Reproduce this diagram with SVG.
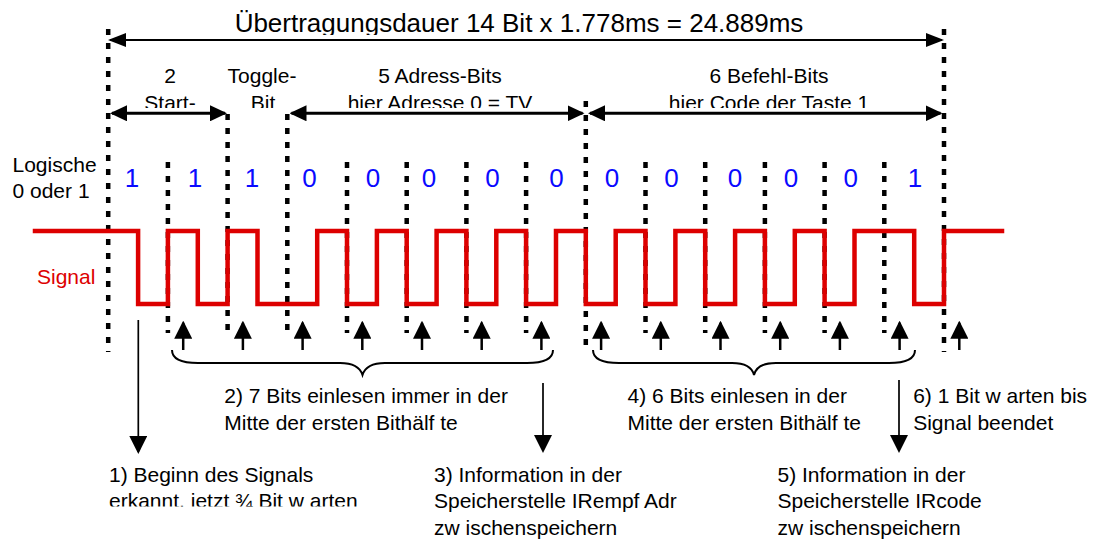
<svg xmlns="http://www.w3.org/2000/svg" width="1101" height="539" viewBox="0 0 1101 539">
<style>
text{font-family:"Liberation Sans",Arial,sans-serif;fill:#000}
.lbl{font-size:21px}
.ttl{font-size:26px}
.dig{font-size:26px;fill:#0a0aff;text-anchor:middle}
.mid{text-anchor:middle}
.dot{stroke:#000;stroke-width:4.5;stroke-dasharray:6 8;fill:none}
.sig{stroke:#dd0000;stroke-width:4.5;fill:none;stroke-linejoin:miter;stroke-linecap:square}
.a1{stroke:#000;stroke-width:2;fill:none}
.a2{stroke:#000;stroke-width:3;fill:none}
.up{stroke:#000;stroke-width:2.5;fill:none}
.dn{stroke:#000;stroke-width:1.7;fill:none}
.br{stroke:#000;stroke-width:2;fill:none}
</style>
<defs>
<marker id="mT" markerUnits="userSpaceOnUse" viewBox="0 0 18 14" markerWidth="18" markerHeight="14" refX="16" refY="7" orient="auto-start-reverse"><path d="M0,0L18,7L0,14z" fill="#000"/></marker>
<marker id="mR" markerUnits="userSpaceOnUse" viewBox="0 0 17 16" markerWidth="17" markerHeight="16" refX="15" refY="8" orient="auto-start-reverse"><path d="M0,0L17,8L0,16z" fill="#000"/></marker>
<marker id="mA" markerUnits="userSpaceOnUse" viewBox="0 0 18 18" markerWidth="18" markerHeight="18" refX="16" refY="9" orient="auto"><path d="M0,0L18,9L0,18z" fill="#000"/></marker>
<clipPath id="cTitle"><rect x="0" y="0" width="1101" height="35"/></clipPath>
<clipPath id="cRow2"><rect x="0" y="85" width="1101" height="23"/></clipPath>
<clipPath id="cB1"><rect x="0" y="440" width="420" height="66.5"/></clipPath>
</defs>

<g id="guides">
<line class="dot" x1="108.2" y1="29" x2="108.2" y2="352"/>
<line class="dot" x1="944" y1="29" x2="944" y2="352"/>
<line class="dot" x1="585.8" y1="101" x2="585.8" y2="352"/>
<line class="dot" x1="227.6" y1="114" x2="227.6" y2="330"/>
<line class="dot" x1="287.3" y1="114" x2="287.3" y2="330"/>
<line class="dot" x1="167.9" y1="162" x2="167.9" y2="333"/>
<line class="dot" x1="347" y1="162" x2="347" y2="333"/>
<line class="dot" x1="406.7" y1="162" x2="406.7" y2="333"/>
<line class="dot" x1="466.4" y1="162" x2="466.4" y2="333"/>
<line class="dot" x1="526.1" y1="162" x2="526.1" y2="333"/>
<line class="dot" x1="645.5" y1="162" x2="645.5" y2="333"/>
<line class="dot" x1="705.2" y1="162" x2="705.2" y2="333"/>
<line class="dot" x1="764.9" y1="162" x2="764.9" y2="333"/>
<line class="dot" x1="824.6" y1="162" x2="824.6" y2="333"/>
<line class="dot" x1="884.3" y1="162" x2="884.3" y2="333"/>
</g>

<g id="signal">
<path class="sig" d="M35,231 H138.1 V304 H167.9 V231 H197.8 V304 H227.6 V231 H257.5 V304 H317.2 V231 H347 V304 H376.9 V231 H406.7 V304 H436.6 V231 H466.4 V304 H496.3 V231 H526.1 V304 H556 V231 H585.8 V304 H615.7 V231 H645.5 V304 H675.4 V231 H705.2 V304 H735.1 V231 H764.9 V304 H794.8 V231 H824.6 V304 H854.5 V231 H914.2 V304 H944 V231 H1002"/>
<text class="lbl" x="37" y="284" style="fill:#dd0000">Signal</text>
</g>

<g id="connectors">
<line class="a1" x1="110" y1="40" x2="942" y2="40" marker-start="url(#mT)" marker-end="url(#mT)"/>
<line class="a2" x1="112" y1="113.3" x2="225" y2="113.3" marker-start="url(#mR)" marker-end="url(#mR)"/>
<line class="a2" x1="291.5" y1="113.3" x2="582.5" y2="113.3" marker-start="url(#mR)" marker-end="url(#mR)"/>
<line class="a2" x1="590" y1="113.3" x2="940.5" y2="113.3" marker-start="url(#mR)" marker-end="url(#mR)"/>
<line class="up" x1="183.2" y1="350" x2="183.2" y2="322.7" marker-end="url(#mA)"/>
<line class="up" x1="242.9" y1="350" x2="242.9" y2="322.7" marker-end="url(#mA)"/>
<line class="up" x1="302.6" y1="350" x2="302.6" y2="322.7" marker-end="url(#mA)"/>
<line class="up" x1="362.3" y1="350" x2="362.3" y2="322.7" marker-end="url(#mA)"/>
<line class="up" x1="422" y1="350" x2="422" y2="322.7" marker-end="url(#mA)"/>
<line class="up" x1="481.7" y1="350" x2="481.7" y2="322.7" marker-end="url(#mA)"/>
<line class="up" x1="541.4" y1="350" x2="541.4" y2="322.7" marker-end="url(#mA)"/>
<line class="up" x1="601.1" y1="350" x2="601.1" y2="322.7" marker-end="url(#mA)"/>
<line class="up" x1="660.8" y1="350" x2="660.8" y2="322.7" marker-end="url(#mA)"/>
<line class="up" x1="720.5" y1="350" x2="720.5" y2="322.7" marker-end="url(#mA)"/>
<line class="up" x1="780.2" y1="350" x2="780.2" y2="322.7" marker-end="url(#mA)"/>
<line class="up" x1="839.9" y1="350" x2="839.9" y2="322.7" marker-end="url(#mA)"/>
<line class="up" x1="899.6" y1="350" x2="899.6" y2="322.7" marker-end="url(#mA)"/>
<line class="up" x1="959.3" y1="350" x2="959.3" y2="322.7" marker-end="url(#mA)"/>
<line class="dn" x1="138.3" y1="320" x2="138.3" y2="452" marker-end="url(#mA)"/>
<line class="dn" x1="543" y1="383" x2="543" y2="451" marker-end="url(#mA)"/>
<line class="dn" x1="899" y1="380" x2="899" y2="451" marker-end="url(#mA)"/>
<path class="br" d="M172,350 C172,358 180,363 198,363 H340 C352,363 360,367 362.5,375 C365,367 373,363 385,363 H527 C545,363 553,358 553,350"/>
<path class="br" d="M593,350 C593,358 601,363 619,363 H732 C744,363 752,367 754,375 C756,367 764,363 776,363 H889 C907,363 915,358 915,350"/>
</g>

<g id="title">
<text class="ttl mid" x="519" y="32" clip-path="url(#cTitle)">Übertragungsdauer 14 Bit x 1.778ms = 24.889ms</text>
</g>

<g id="start-bits">
<text class="lbl mid" x="170" y="83.3">2</text>
<text class="lbl mid" x="170" y="109.5" clip-path="url(#cRow2)">Start-</text>
</g>
<g id="toggle-bit">
<text class="lbl mid" x="262" y="83.3">Toggle-</text>
<text class="lbl mid" x="263" y="109.5" clip-path="url(#cRow2)">Bit</text>
</g>
<g id="address-bits">
<text class="lbl mid" x="440" y="83.3">5 Adress-Bits</text>
<text class="lbl mid" x="440" y="109.5" clip-path="url(#cRow2)">hier Adresse 0 = TV</text>
</g>
<g id="command-bits">
<text class="lbl mid" x="769" y="83.3">6 Befehl-Bits</text>
<text class="lbl mid" x="769" y="109.5" clip-path="url(#cRow2)">hier Code der Taste 1</text>
</g>

<g id="logic-label">
<text class="lbl" x="12.5" y="171.7">Logische</text>
<text class="lbl" x="12.5" y="198.3">0 oder 1</text>
</g>

<g id="bit-values">
<text class="dig" x="132" y="187">1</text>
<text class="dig" x="195" y="187">1</text>
<text class="dig" x="252" y="187">1</text>
<text class="dig" x="309.6" y="187">0</text>
<text class="dig" x="373" y="187">0</text>
<text class="dig" x="429" y="187">0</text>
<text class="dig" x="492.4" y="187">0</text>
<text class="dig" x="556.6" y="187">0</text>
<text class="dig" x="612" y="187">0</text>
<text class="dig" x="671.6" y="187">0</text>
<text class="dig" x="735" y="187">0</text>
<text class="dig" x="791" y="187">0</text>
<text class="dig" x="850.7" y="187">0</text>
<text class="dig" x="915" y="187">1</text>
</g>

<g id="step1">
<text class="lbl" x="109" y="481.7" clip-path="url(#cB1)">1) Beginn des Signals</text>
<text class="lbl" x="109" y="508.3" clip-path="url(#cB1)">erkannt, jetzt ¾ Bit w arten</text>
</g>
<g id="step2">
<text class="lbl" x="224.3" y="403.3">2) 7 Bits einlesen immer in der</text>
<text class="lbl" x="224.3" y="430">Mitte der ersten Bithälf te</text>
</g>
<g id="step3">
<text class="lbl" x="434" y="481.7">3) Information in der</text>
<text class="lbl" x="434" y="508.3">Speicherstelle IRempf Adr</text>
<text class="lbl" x="434" y="535">zw ischenspeichern</text>
</g>
<g id="step4">
<text class="lbl" x="627.5" y="403.3">4) 6 Bits einlesen in der</text>
<text class="lbl" x="627.5" y="430">Mitte der ersten Bithälf te</text>
</g>
<g id="step5">
<text class="lbl" x="777.5" y="481.7">5) Information in der</text>
<text class="lbl" x="777.5" y="508.3">Speicherstelle IRcode</text>
<text class="lbl" x="777.5" y="535">zw ischenspeichern</text>
</g>
<g id="step6">
<text class="lbl" x="913.2" y="403.3">6) 1 Bit w arten bis</text>
<text class="lbl" x="913.2" y="430">Signal beendet</text>
</g>
</svg>
